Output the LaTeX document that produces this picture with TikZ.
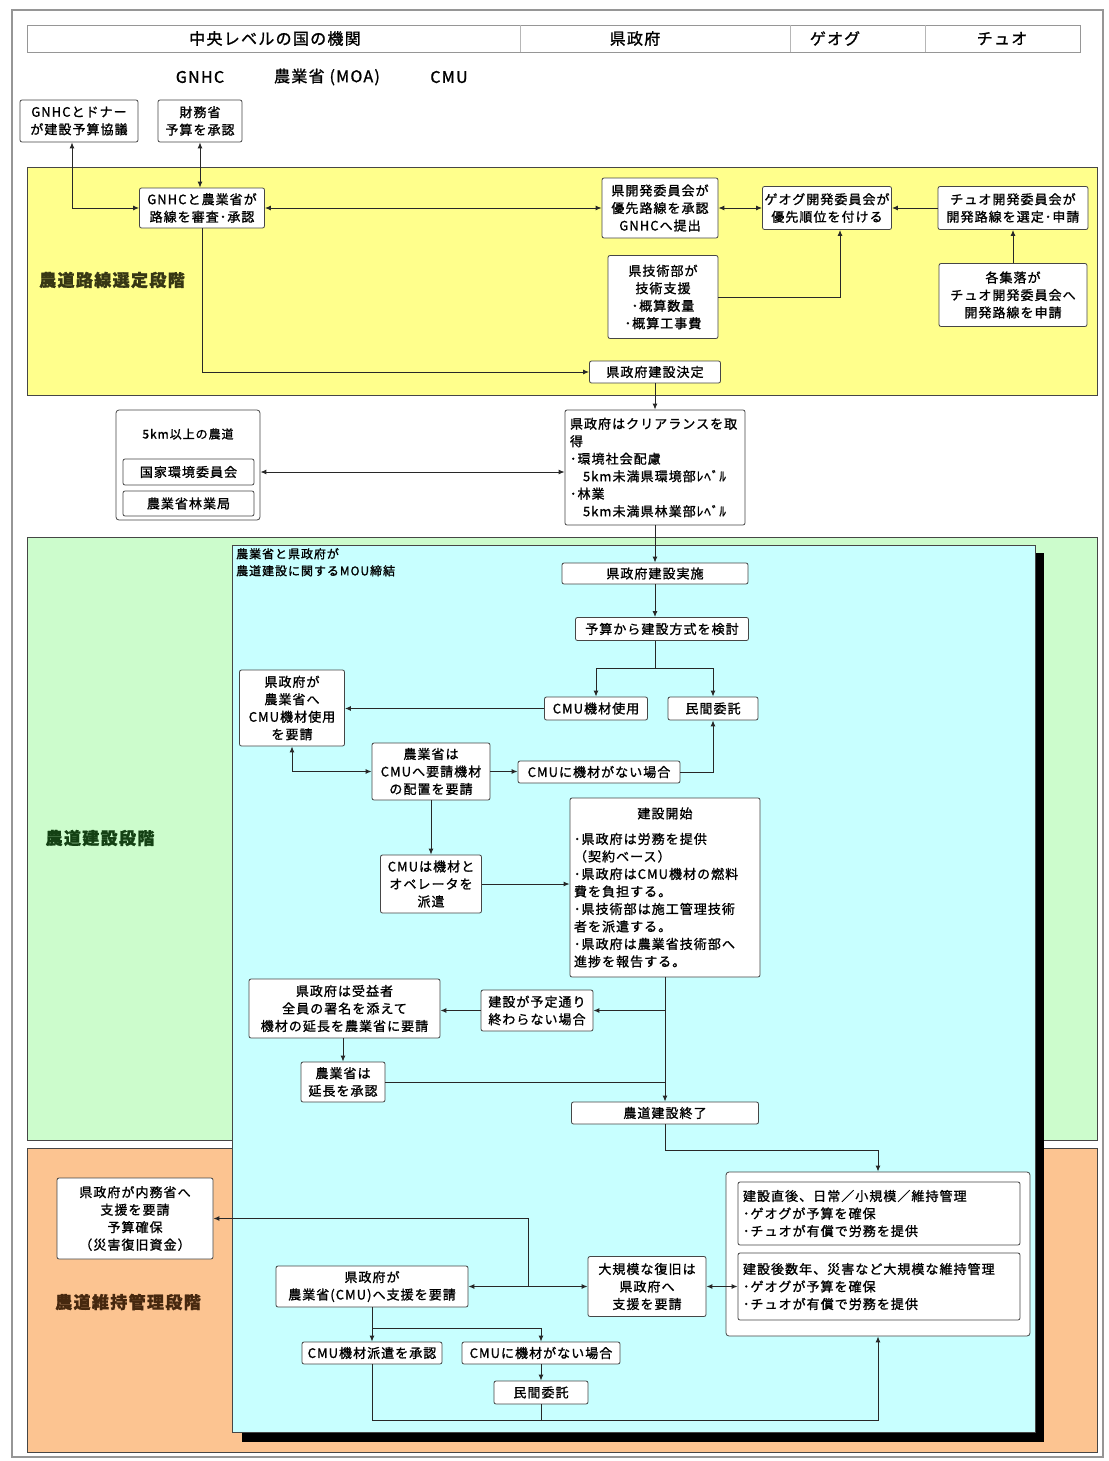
\documentclass[tikz,border=0pt]{standalone}
\usepackage{fontspec}
\setmainfont[LetterSpace=8, FakeBold=1.2]{Noto Sans CJK JP}
\usetikzlibrary{arrows.meta}

\definecolor{bandyellow}{RGB}{255,255,140}
\definecolor{bandgreen}{RGB}{204,252,204}
\definecolor{bandorange}{RGB}{252,196,145}
\definecolor{panelcyan}{RGB}{200,255,255}
\definecolor{boxline}{RGB}{70,70,70}
\definecolor{linecol}{RGB}{40,40,40}
\definecolor{frameline}{RGB}{150,150,150}
\definecolor{labyellow}{RGB}{55,55,20}
\definecolor{labgreen}{RGB}{20,65,20}
\definecolor{laborange}{RGB}{70,40,15}

\newcommand\bx{\fontsize{13}{17.5}\selectfont}
\newcommand\sx{\fontsize{12}{17}\selectfont}
\newcommand\hx{\fontsize{16}{19}\selectfont}
\newcommand\px{\fontsize{17}{20}\selectfont\bfseries}

\tikzset{
  box/.style={draw=boxline, fill=white, rounded corners=2pt, line width=0.8pt,
              align=center, font=\bx, inner sep=2pt},
  lbox/.style={box, align=left, inner sep=5pt},
  link/.style={draw=linecol, line width=1pt},
  arr/.style={link, -{Latex[length=6pt,width=5pt]}},
  darr/.style={link, {Latex[length=6pt,width=5pt]}-{Latex[length=6pt,width=5pt]}},
  band/.style={draw=boxline, line width=0.9pt},
  phase/.style={font=\px, anchor=center},
}

\begin{document}
\begin{tikzpicture}[x=1pt, y=-1pt]
\useasboundingbox (0,0) rectangle (1108,1461);
\fill[white] (0,0) rectangle (1108,1461);

% outer frame
\draw[frameline, line width=1.3pt] (12,10) rectangle (1103,1457);

% column header
\draw[frameline, fill=white, line width=0.8pt] (27,25) rectangle (1080,52);
\draw[frameline!70, line width=0.8pt] (520,25) -- (520,52);
\draw[frameline!70, line width=0.8pt] (790,25) -- (790,52);
\draw[frameline!70, line width=0.8pt] (925,25) -- (925,52);
\node[font=\hx] (hcen) at (275,38.5) {中央レベルの国の機関};
\node[font=\hx] (hken) at (635,38.5) {県政府};
\node[font=\hx] (hgeog) at (835,38.5) {ゲオグ};
\node[font=\hx] (hchiw) at (1002,38.5) {チュオ};
\node[font=\hx] (hgnhc) at (200,77) {GNHC};
\node[font=\hx] (hmoa) at (327,77) {農業省 (MOA)};
\node[font=\hx] (hcmu) at (449,77) {CMU};

% top boxes
\node[box, minimum width=118pt, minimum height=42pt] (donor) at (79,121) {GNHCとドナー\\が建設予算協議};
\node[box, minimum width=84pt, minimum height=42pt] (mof) at (200,121) {財務省\\予算を承認};

% phase bands
\fill[bandyellow] (27,167) rectangle (1097,395);
\draw[band] (27,167) rectangle (1097,395);
\fill[bandgreen] (27,537) rectangle (1097,1140);
\draw[band] (27,537) rectangle (1097,1140);
\fill[bandorange] (27,1148) rectangle (1097,1452);
\draw[band] (27,1148) rectangle (1097,1452);

\node[phase, text=labyellow] (ph1) at (112,280) {農道路線選定段階};
\node[phase, text=labgreen] (ph2) at (100,838) {農道建設段階};
\node[phase, text=laborange] (ph3) at (128,1302) {農道維持管理段階};

% construction panel with drop shadow
\fill[black] (242,553) rectangle (1044,1442);
\fill[panelcyan] (232,545) rectangle (1035,1432);
\draw[boxline, line width=0.6pt] (232,545) rectangle (1035,1432);
\node[anchor=north west, align=left, font=\sx, inner sep=0pt] (mou) at (236,548)
  {農業省と県政府が\\農道建設に関するMOU締結};

% ---- route selection stage
\node[box, minimum width=125pt, minimum height=40pt] (gm) at (202,208) {GNHCと農業省が\\路線を審査･承認};
\node[box, minimum width=116pt, minimum height=60pt] (kdc) at (660,208) {県開発委員会が\\優先路線を承認\\GNHCへ提出};
\node[box, minimum width=117pt, minimum height=43pt] (gdc) at (827,208) {ゲオグ開発委員会が\\優先順位を付ける};
\node[box, minimum width=150pt, minimum height=43pt] (cdc) at (1013,208) {チュオ開発委員会が\\開発路線を選定･申請};
\node[box, minimum width=110pt, minimum height=83pt] (ktd) at (663,297) {県技術部が\\技術支援\\･概算数量\\･概算工事費};
\node[box, minimum width=148pt, minimum height=63pt] (vil) at (1013,295) {各集落が\\チュオ開発委員会へ\\開発路線を申請};
\node[box, minimum width=131pt, minimum height=22pt] (kdec) at (655,372) {県政府建設決定};

\draw[darr] ([xshift=-7pt]donor.south) |- (gm.west);
\draw[darr] (mof.south) -- (mof.south |- gm.north);
\draw[darr] (gm.east) -- (gm.east -| kdc.west);
\draw[darr] (kdc.east) -- (kdc.east -| gdc.west);
\draw[arr] (cdc.west) -- (cdc.west -| gdc.east);
\draw[arr] (vil.north) -- (cdc.south);
\draw[arr] (ktd.east) -| ([xshift=13pt]gdc.south);
\draw[arr] (gm.south) |- (kdec.west);

% ---- clearance
\node[box, rounded corners=3pt, minimum width=144pt, minimum height=110pt] (k5) at (188,465) {};
\node[font=\sx] (k5t) at (188,434) {5km以上の農道};
\node[box, minimum width=131pt, minimum height=26pt] (nec) at (188.5,472) {国家環境委員会};
\node[box, minimum width=131pt, minimum height=25pt] (dof) at (188.5,503.5) {農業省林業局};
\node[lbox, text width=170pt, minimum height=115pt] (clr) at (655,467.5)
  {県政府はクリアランスを取\\得\\･環境社会配慮\\\hspace*{1em}5km未満県環境部ﾚﾍﾞﾙ\\･林業\\\hspace*{1em}5km未満県林業部ﾚﾍﾞﾙ};

\draw[arr] (kdec.south) -- (clr.north);
\draw[darr] (k5.east |- nec.center) -- (clr.west |- nec.center);

% ---- construction stage
\node[box, minimum width=186pt, minimum height=21pt] (impl) at (655,573.5) {県政府建設実施};
\node[box, minimum width=173pt, minimum height=23pt] (yosan) at (662,629) {予算から建設方式を検討};
\node[box, minimum width=103pt, minimum height=23pt] (cmuuse) at (596,708.5) {CMU機材使用};
\node[box, minimum width=90pt, minimum height=23pt] (minkan) at (713,708.5) {民間委託};
\node[box, minimum width=105pt, minimum height=76pt] (req1) at (292,708) {県政府が\\農業省へ\\CMU機材使用\\を要請};
\node[box, minimum width=118pt, minimum height=57pt] (moa1) at (431,771.5) {農業省は\\CMUへ要請機材\\の配置を要請};
\node[box, minimum width=162pt, minimum height=22pt] (nocmu) at (599,772) {CMUに機材がない場合};
\node[box, minimum width=101pt, minimum height=58pt] (cmudisp) at (431,884) {CMUは機材と\\オペレータを\\派遣};
\node[lbox, text width=182pt, inner sep=4pt, minimum height=179pt] (start) at (665,887.5)
  {\makebox[182pt]{建設開始}\\[8pt]
   ･県政府は労務を提供\\（契約ベース）\\･県政府はCMU機材の燃料\\費を負担する。\\
   ･県技術部は施工管理技術\\者を派遣する。\\･県政府は農業省技術部へ\\進捗を報告する。};
\node[box, minimum width=112pt, minimum height=41pt] (late) at (537,1010.5) {建設が予定通り\\終わらない場合};
\node[box, minimum width=191pt, minimum height=59pt] (ext) at (344.5,1008.5) {県政府は受益者\\全員の署名を添えて\\機材の延長を農業省に要請};
\node[box, minimum width=84pt, minimum height=40pt] (appr) at (343,1082) {農業省は\\延長を承認};
\node[box, minimum width=187pt, minimum height=22pt] (done) at (665,1113) {農道建設終了};

\coordinate (sp1) at (655,668);
\draw[arr] (clr.south) -- (impl.north);
\draw[arr] (impl.south) -- (impl.south |- yosan.north);
\draw[link] (impl.south |- yosan.south) -- (sp1);
\draw[arr] (sp1) -| (cmuuse.north);
\draw[arr] (sp1) -| (minkan.north);
\draw[arr] (cmuuse.west) -- (cmuuse.west -| req1.east);
\draw[darr] (req1.south) |- (moa1.west);
\draw[arr] (moa1.east) -- (moa1.east -| nocmu.west);
\draw[arr] (nocmu.east) -| (minkan.south);
\draw[arr] (moa1.south) -- (cmudisp.north);
\draw[arr] (cmudisp.east) -- (cmudisp.east -| start.west);
\draw[arr] (start.south) -- (done.north);
\draw[arr] (start.south |- late.east) -- (late.east);
\draw[arr] (late.west) -- (late.west -| ext.east);
\draw[arr] (ext.south -| appr.north) -- (appr.north);
\draw[link] (appr.east) -- (appr.east -| start.south);

% ---- maintenance stage
\node[box, rounded corners=3pt, minimum width=304pt, minimum height=164pt] (mbox) at (878,1254) {};
\node[lbox, text width=272pt, minimum height=63pt] (m1) at (879,1213.5)
  {建設直後、日常／小規模／維持管理\\･ゲオグが予算を確保\\･チュオが有償で労務を提供};
\node[lbox, text width=272pt, minimum height=67pt] (m2) at (879,1286.5)
  {建設後数年、災害など大規模な維持管理\\･ゲオグが予算を確保\\･チュオが有償で労務を提供};
\node[box, minimum width=118pt, minimum height=60pt] (large) at (647,1286.5) {大規模な復旧は\\県政府へ\\支援を要請};
\node[box, minimum width=192pt, minimum height=41pt] (kcmu) at (372,1286.5) {県政府が\\農業省(CMU)へ支援を要請};
\node[box, minimum width=156pt, minimum height=81pt] (naimu) at (135,1218.5) {県政府が内務省へ\\支援を要請\\予算確保\\（災害復旧資金）};
\node[box, minimum width=140pt, minimum height=22pt] (appr2) at (372,1353) {CMU機材派遣を承認};
\node[box, minimum width=158pt, minimum height=22pt] (nocmu2) at (541,1353) {CMUに機材がない場合};
\node[box, minimum width=94pt, minimum height=23pt] (min2) at (541,1392.5) {民間委託};

\coordinate (j1) at (528,1286.5);
\coordinate (sp2) at (372,1328);
\coordinate (lowbus) at (878,1420);

\draw[arr] (done.south) -- ++(0,26) -| (mbox.north);
\draw[darr] (large.east) -- (large.east -| m2.west);
\draw[darr] (kcmu.east) -- (large.west);
\draw[arr] (j1) |- (naimu.east);
\draw[link] (kcmu.south) -- (sp2);
\draw[arr] (sp2) -- (appr2.north);
\draw[arr] (sp2) -| (nocmu2.north);
\draw[arr] (nocmu2.south) -- (min2.north);
\draw[arr] (appr2.south) |- (lowbus) -- (mbox.south);
\draw[link] (min2.south) -- (min2.south |- lowbus);
\end{tikzpicture}
\end{document}
